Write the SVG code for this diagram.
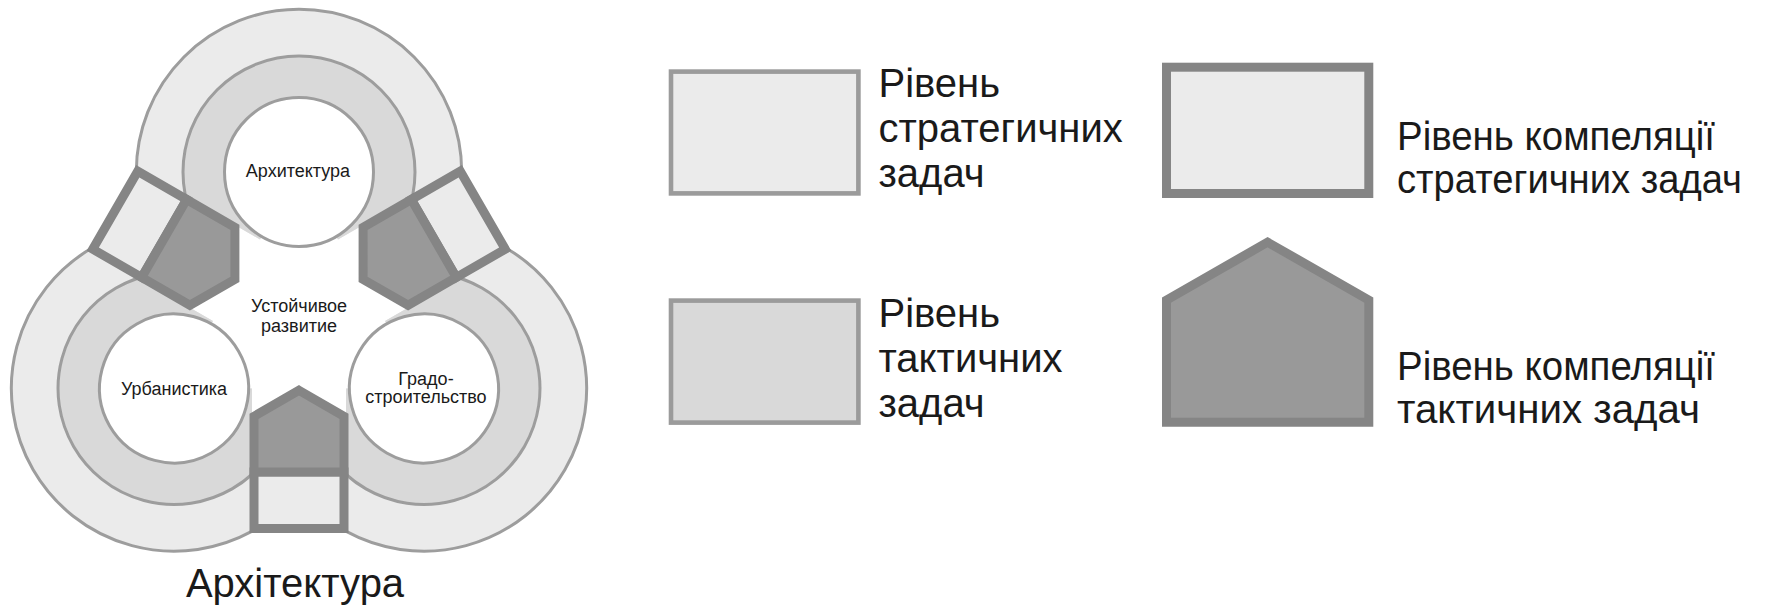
<svg xmlns="http://www.w3.org/2000/svg" xmlns:xlink="http://www.w3.org/1999/xlink" width="1778" height="607" viewBox="0 0 1778 607">
  <style>
    .outer { fill: #ebebeb; stroke: #9d9d9d; stroke-width: 3; }
    .mid { fill: #d9d9d9; stroke: #9d9d9d; stroke-width: 3; }
    .inner { fill: #ffffff; stroke: #9d9d9d; stroke-width: 3; }
    .mod-rect { fill: #ebebeb; stroke: #858585; stroke-width: 9; }
    .mod-pent { fill: #999999; stroke: #858585; stroke-width: 9; stroke-linejoin: miter; }
    .leg-light { fill: #ebebeb; stroke: #9b9b9b; stroke-width: 4.6; }
    .leg-mid { fill: #d9d9d9; stroke: #9b9b9b; stroke-width: 4.6; }
    .t-small { font-family: 'Liberation Sans', Arial, sans-serif; font-size: 18px; fill: #1a1a1a; text-anchor: middle; }
    .t-big { font-family: 'Liberation Sans', Arial, sans-serif; font-size: 40px; fill: #1a1a1a; }
  </style>
  <defs>
    <clipPath id="clipTop" clipPathUnits="userSpaceOnUse">
      <polygon points="299,172 260,239.5 0.2,89.5 -100,-200 698,-200 597.8,89.5 338,239.5"/>
    </clipPath>
    <g id="ringSet">
      <g clip-path="url(#clipTop)">
        <circle cx="299" cy="172" r="162.7" class="outer"/>
        <circle cx="299" cy="172" r="116" class="mid"/>
      </g>
      <circle cx="299" cy="172" r="74.5" class="inner"/>
    </g>
    <g id="module">
      <rect x="254" y="472" width="90" height="56.5" class="mod-rect"/>
      <polygon points="299,390.3 344,416.3 344,472 254,472 254,416.3" class="mod-pent"/>
    </g>
  </defs>

  <g id="connectors"></g>

  <g id="node-arkhitektura">
    <use xlink:href="#ringSet" href="#ringSet"/>
    <text x="298" y="177" class="t-small">Архитектура</text>
  </g>
  <g id="node-urbanistika">
    <use xlink:href="#ringSet" href="#ringSet" transform="rotate(240 299 316.3)"/>
    <text x="174" y="395" class="t-small">Урбанистика</text>
  </g>
  <g id="node-gradostroitelstvo">
    <use xlink:href="#ringSet" href="#ringSet" transform="rotate(120 299 316.3)"/>
    <text x="426" y="385" class="t-small">Градо-</text>
    <text x="426" y="403" class="t-small">строительство</text>
  </g>

  <g id="module-bottom">
    <use xlink:href="#module" href="#module"/>
  </g>
  <g id="module-upper-left">
    <use xlink:href="#module" href="#module" transform="rotate(120 299 316.3)"/>
  </g>
  <g id="module-upper-right">
    <use xlink:href="#module" href="#module" transform="rotate(240 299 316.3)"/>
  </g>

  <g id="node-center">
    <text x="299" y="312" class="t-small">Устойчивое</text>
    <text x="299" y="332" class="t-small">развитие</text>
  </g>

  <g id="title">
    <text x="295" y="597" class="t-big" text-anchor="middle">Архітектура</text>
  </g>

  <g id="legend-strategic">
    <rect x="671" y="71.6" width="187.4" height="121.8" class="leg-light"/>
    <text class="t-big" x="878.5" y="96.7">Рівень</text>
    <text class="t-big" x="878.5" y="141.7">стратегичних</text>
    <text class="t-big" x="878.5" y="186.7">задач</text>
  </g>
  <g id="legend-tactical">
    <rect x="671" y="300.6" width="187.4" height="122" class="leg-mid"/>
    <text class="t-big" x="878.5" y="326.7">Рівень</text>
    <text class="t-big" x="878.5" y="371.7">тактичних</text>
    <text class="t-big" x="878.5" y="416.7">задач</text>
  </g>
  <g id="legend-comp-strategic">
    <rect x="1166.5" y="67.2" width="202.3" height="126.3" class="mod-rect"/>
    <text class="t-big" x="1397" y="149.5" textLength="318" lengthAdjust="spacingAndGlyphs">Рівень компеляції</text>
    <text class="t-big" x="1397" y="193" textLength="345" lengthAdjust="spacingAndGlyphs">стратегичних задач</text>
  </g>
  <g id="legend-comp-tactical">
    <polygon points="1267.6,242.2 1368.8,300 1368.8,422.2 1166.5,422.2 1166.5,300" class="mod-pent"/>
    <text class="t-big" x="1397" y="380" textLength="318" lengthAdjust="spacingAndGlyphs">Рівень компеляції</text>
    <text class="t-big" x="1397" y="423" textLength="303" lengthAdjust="spacingAndGlyphs">тактичних задач</text>
  </g>
</svg>
